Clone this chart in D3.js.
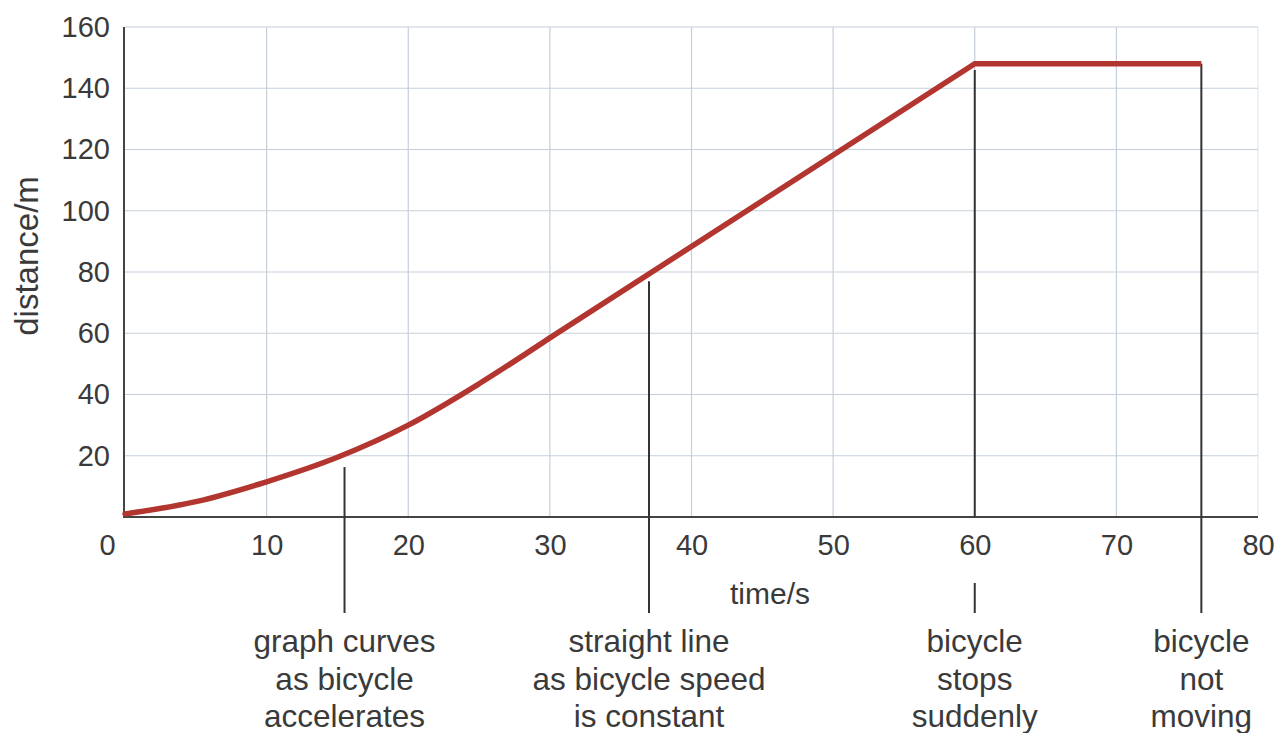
<!DOCTYPE html>
<html>
<head>
<meta charset="utf-8">
<script src="https://cdn.jsdelivr.net/npm/d3@7"></script>
<style>
    body { margin: 0; background: #ffffff; }
    text { font-family: "Liberation Sans", Arial, sans-serif; fill: #3a3a3a; }
</style>
</head>
<body>
<script>
// 数据：加速段（曲线）和匀速 / 停止段（折线）
const curveTimes = [0, 5, 10, 15, 20, 25, 30];
const curveDistances = [1, 5, 11.5, 19.5, 30, 43.5, 58.5];
const lineTimes = [30, 60, 76];
const lineDistances = [58.5, 148, 148];

// 刻度
const xTicks = [0, 10, 20, 30, 40, 50, 60, 70, 80];
const yTicks = [20, 40, 60, 80, 100, 120, 140, 160];

// 注释：时间点、引线顶端的距离值、文字
const noteTimes = [15.5, 37, 60, 76];
const noteTops = [16.3, 77, 146, 148];
const noteTexts = [
    ['graph curves', 'as bicycle', 'accelerates'],
    ['straight line', 'as bicycle speed', 'is constant'],
    ['bicycle', 'stops', 'suddenly'],
    ['bicycle', 'not', 'moving']
];

const svgWidth = 1276, svgHeight = 733;

const svg = d3.select('body')
    .append('svg')
    .attr('width', svgWidth)
    .attr('height', svgHeight);

const x = d3.scaleLinear().domain([0, 80]).range([125, 1258]);
const y = d3.scaleLinear().domain([0, 160]).range([517, 27]);

// 网格
const grid = svg.append('g').attr('class', 'grid');
grid.selectAll('line.v')
    .data(xTicks.slice(1))
    .enter()
    .append('line')
    .attr('class', 'v')
    .attr('x1', d => x(d)).attr('x2', d => x(d))
    .attr('y1', y(160)).attr('y2', y(0))
    .attr('stroke', d => d === 80 ? '#e3e8ee' : '#c5cfdb')
    .attr('stroke-width', 1.2);
grid.selectAll('line.h')
    .data(yTicks)
    .enter()
    .append('line')
    .attr('class', 'h')
    .attr('x1', x(0)).attr('x2', x(80))
    .attr('y1', d => y(d)).attr('y2', d => y(d))
    .attr('stroke', '#c5cfdb')
    .attr('stroke-width', 1.2);

// 坐标轴刻度文字
const xAxis = svg.append('g')
    .attr('transform', `translate(0,${y(0)})`)
    .call(d3.axisBottom(x).tickValues(xTicks).tickSize(0).tickPadding(17));
xAxis.select('.domain').remove();
xAxis.selectAll('text')
    .style('font-size', '29px')
    .attr('fill', '#3a3a3a')
    .attr('dx', d => d === 0 ? -18 : 0);

const yAxis = svg.append('g')
    .attr('transform', `translate(${x(0)},0)`)
    .call(d3.axisLeft(y).tickValues(yTicks).tickSize(0).tickPadding(15));
yAxis.select('.domain').remove();
yAxis.selectAll('text')
    .style('font-size', '29px')
    .attr('fill', '#3a3a3a');

// 轴线
svg.append('line')
    .attr('x1', x(0) - 1).attr('x2', x(0) - 1)
    .attr('y1', y(160)).attr('y2', y(0))
    .attr('stroke', '#444444').attr('stroke-width', 2);
svg.append('line')
    .attr('x1', x(0) - 2).attr('x2', x(80))
    .attr('y1', y(0)).attr('y2', y(0))
    .attr('stroke', '#444444').attr('stroke-width', 2);

// 轴标题
svg.append('text')
    .attr('transform', `translate(38,${(y(160) + y(0)) / 2 - 16}) rotate(-90)`)
    .attr('text-anchor', 'middle')
    .style('font-size', '33px')
    .text('distance/m');
svg.append('text')
    .attr('x', 770)
    .attr('y', 604)
    .attr('text-anchor', 'middle')
    .style('font-size', '30px')
    .text('time/s');

// 注释引线
const notes = noteTimes.map((t, i) => ({t, top: noteTops[i], lines: noteTexts[i]}));
const noteG = svg.append('g').attr('class', 'notes');
notes.forEach((n, i) => {
    const nx = x(n.t);
    if (n.t === 60) {
        // 在刻度数字处断开
        noteG.append('line')
            .attr('x1', nx).attr('x2', nx)
            .attr('y1', y(n.top)).attr('y2', y(0))
            .attr('stroke', '#333333').attr('stroke-width', 2);
        noteG.append('line')
            .attr('x1', nx).attr('x2', nx)
            .attr('y1', y(0) + 66).attr('y2', y(0) + 96)
            .attr('stroke', '#333333').attr('stroke-width', 2);
    } else {
        noteG.append('line')
            .attr('x1', nx).attr('x2', nx)
            .attr('y1', y(n.top)).attr('y2', y(0) + 96)
            .attr('stroke', '#333333').attr('stroke-width', 2);
    }
    noteG.append('text')
        .attr('text-anchor', 'middle')
        .style('font-size', '31.5px')
        .selectAll('tspan')
        .data(n.lines)
        .enter()
        .append('tspan')
        .attr('x', nx)
        .attr('y', (d, j) => 652 + j * 37.5)
        .text(d => d);
});

// 距离-时间曲线
const curvePts = curveTimes.map((t, i) => [t, curveDistances[i]]);
const linePts = lineTimes.map((t, i) => [t, lineDistances[i]]);
const plotG = svg.append('g').attr('class', 'plot');
plotG.append('path')
    .datum(curvePts)
    .attr('fill', 'none')
    .attr('stroke', '#b3352f')
    .attr('stroke-width', 5.5)
    .attr('stroke-linecap', 'round')
    .attr('d', d3.line().x(d => x(d[0])).y(d => y(d[1])).curve(d3.curveMonotoneX));
plotG.append('path')
    .datum(linePts)
    .attr('fill', 'none')
    .attr('stroke', '#b3352f')
    .attr('stroke-width', 5.5)
    .attr('stroke-linejoin', 'miter')
    .attr('d', d3.line().x(d => x(d[0])).y(d => y(d[1])));
</script>
</body>
</html>
